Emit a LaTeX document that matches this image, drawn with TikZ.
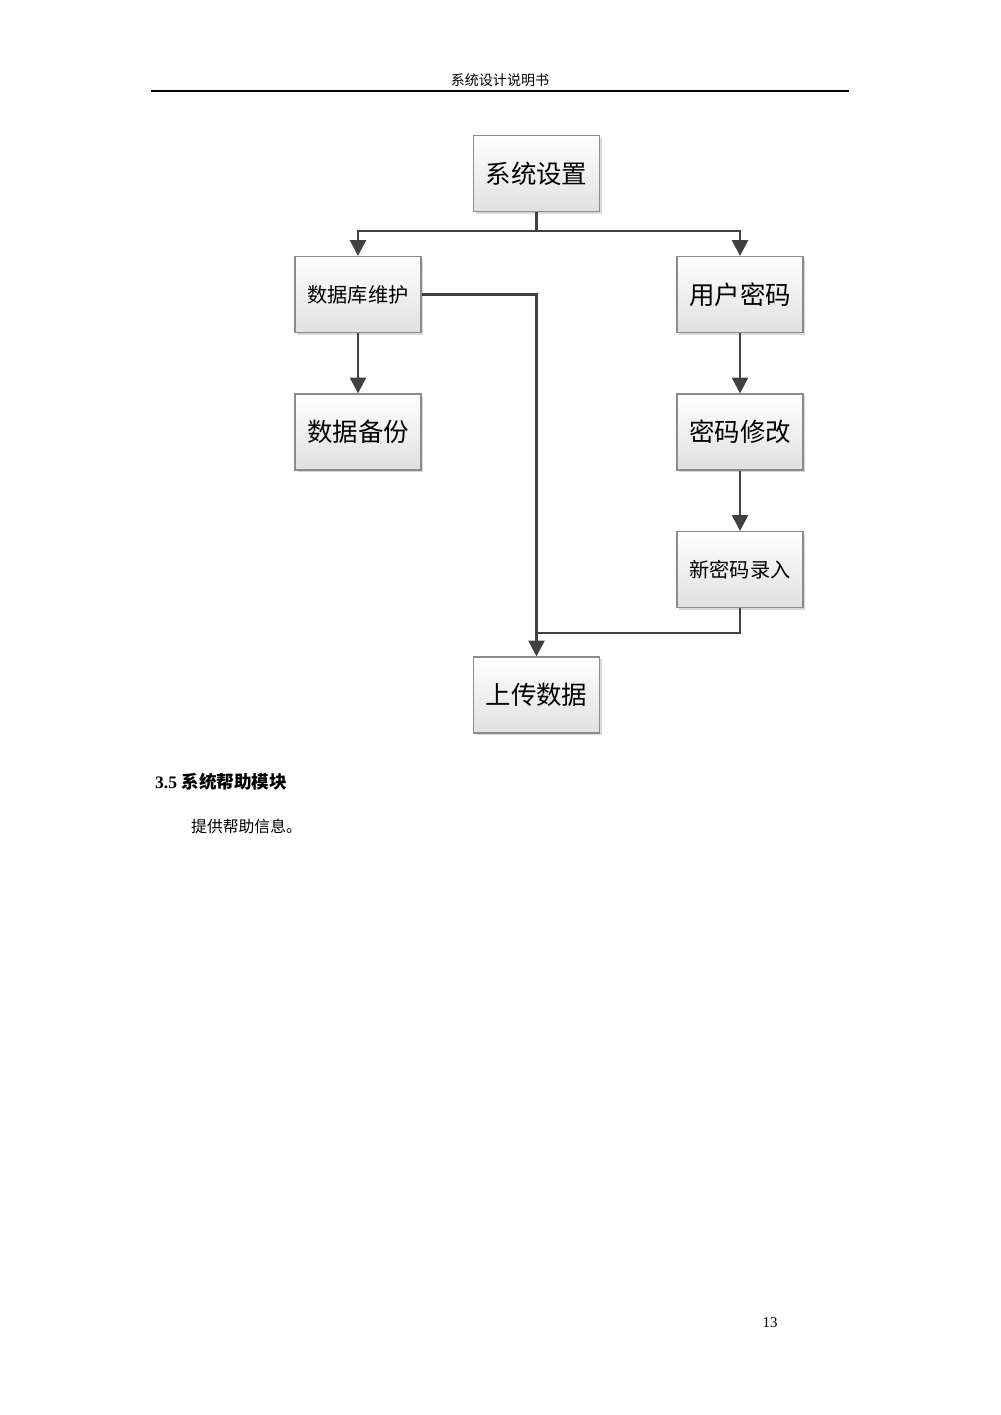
\documentclass[tikz,border=0pt]{standalone}
\usepackage{fontspec}
\setmainfont{Liberation Serif}
\newfontfamily\cjk{Noto Sans CJK SC}
\usetikzlibrary{arrows.meta,shadows}
\tikzset{
 bx/.style={draw=black!45,line width=0.6pt,top color=white,bottom color=black!12,
   minimum width=126*0.02cm,minimum height=76*0.02cm,inner sep=0pt,
   drop shadow={shadow xshift=1.2pt,shadow yshift=-1.2pt,fill=black!25,opacity=0.6},
   font=\cjk\fontsize{14.5}{16}\selectfont},
 sm/.style={font=\cjk\fontsize{11.5}{13}\selectfont},
 ln/.style={draw=black!75,line width=1.6pt},
 ar/.style={ln,-{Triangle[length=9pt,width=9pt]}}
}
\begin{document}
\begin{tikzpicture}[x=0.02cm,y=-0.02cm]
\useasboundingbox (0,0) rectangle (1000,1415);
\node[font=\cjk\fontsize{8}{9}\selectfont] (hd) at (500,80) {系统设计说明书};
\draw[line width=0.8pt] (151,91) -- (849,91);
\node[bx] (a) at (536.5,173.5) {系统设置};
\node[bx,sm] (b) at (358,294.5) {数据库维护};
\node[bx] (c) at (740,294.5) {用户密码};
\node[bx] (d) at (358,432) {数据备份};
\node[bx] (e) at (740,432) {密码修改};
\node[bx,sm] (f) at (740,569.5) {新密码录入};
\node[bx] (g) at (536.5,695) {上传数据};
\coordinate (bus) at (536.5,231);
\coordinate (j) at (536.5,633);
\draw[ln] (a.south) -- (bus);
\draw[ar] (bus) -| (b.north);
\draw[ar] (bus) -| (c.north);
\draw[ar] (b) -- (d);
\draw[ar] (c) -- (e);
\draw[ar] (e) -- (f);
\draw[ar] (b.east) -| (g.north);
\draw[ln] (f.south) |- (j);
\node[anchor=west,font=\bfseries\fontsize{10}{12}\selectfont] (h) at (149,782) {3.5 {\cjk 系统帮助模块}};
\node[anchor=west,font=\cjk\fontsize{9}{11}\selectfont] (p) at (185,826) {提供帮助信息。};
\node[font=\fontsize{8.5}{10}\selectfont] (n) at (770,1323) {13};
\end{tikzpicture}
\end{document}
